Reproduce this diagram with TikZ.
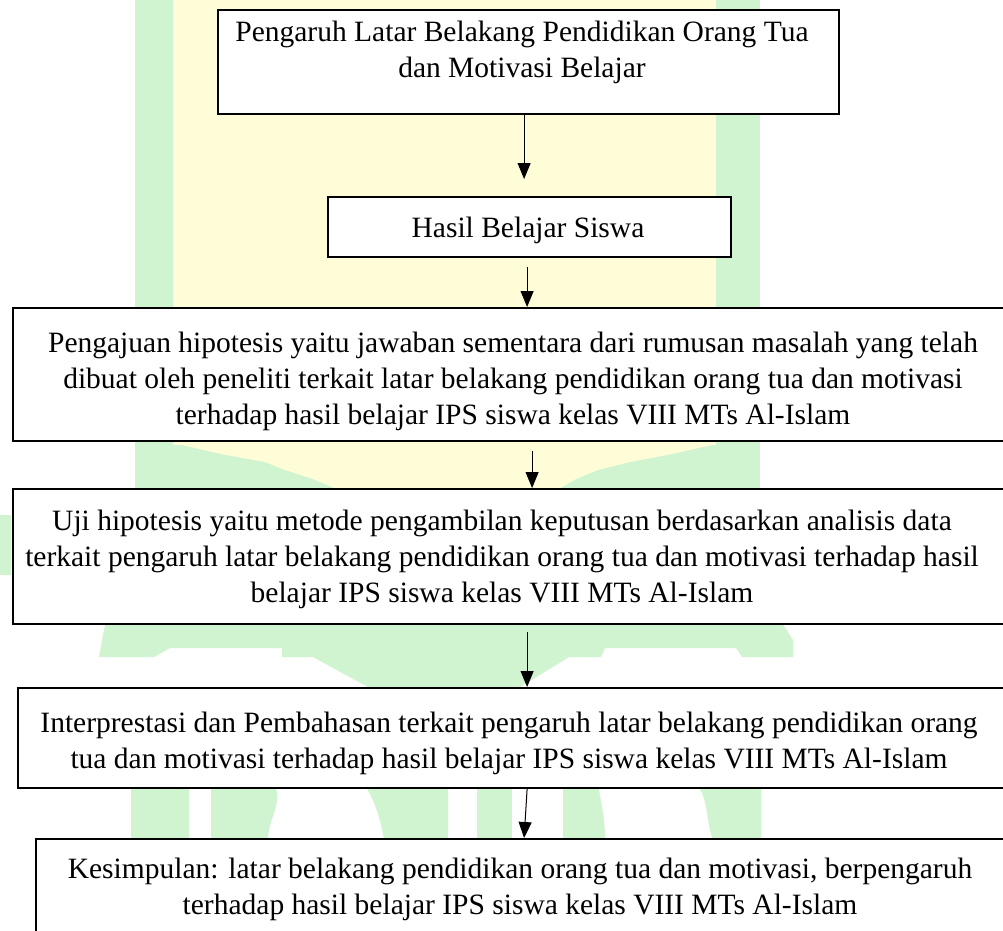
\documentclass[tikz,border=0pt]{standalone}
\usepackage{fontspec}
\setmainfont{Liberation Serif}
\usetikzlibrary{arrows.meta}
\definecolor{wmgreen}{RGB}{208,243,208}
\definecolor{wmyellow}{RGB}{255,253,216}
\tikzset{
  flowbox/.style={draw=black, line width=2.2pt, fill=white, rectangle, inner sep=0pt, anchor=north west},
  flowtext/.style={align=center, inner sep=0pt, font=\fontsize{29.5}{36}\selectfont},
  flowarrow/.style={line width=1pt, -{Triangle[width=13pt,length=16pt]}},
}
\begin{document}
\begin{tikzpicture}[x=1pt,y=-1pt]
\useasboundingbox (0,0) rectangle (1003,930);
\clip (0,0) rectangle (1003,930);
\fill[white] (0,0) rectangle (1003,930);
% faint watermark
\fill[wmgreen] (135,0) rectangle (760,490);
\fill[wmyellow] (173,0) rectangle (716,445);
\fill[wmyellow] (182,445) -- (712,445) -- (672,454) -- (630,462) -- (598,470) -- (576,479) -- (557,490) -- (339,490) -- (313,479) -- (285,470) -- (265,462) -- (221,454) -- cycle;
\fill[wmgreen] (0,515) rectangle (11,575);
\fill[wmgreen] (106,620) -- (780,620) -- (793,640) -- (793,657) -- (742,657) -- (736,648) -- (605,648) -- (601,657) -- (569,657) -- (512,692) -- (377,692) -- (313,657) -- (282,657) -- (282,648) -- (170,648) -- (154,657) -- (99,657) -- (102,640) -- cycle;
\fill[wmgreen] (131,785) rectangle (189,840);
\fill[wmgreen] (211,785) -- (275,785) to[out=-70,in=90] (268,840) -- (211,840) -- cycle;
\fill[wmgreen] (365,785) -- (448,785) -- (448,840) -- (384,840) to[out=100,in=-60] cycle;
\fill[wmgreen] (477,785) rectangle (512,840);
\fill[wmgreen] (563,785) -- (598,785) to[out=-80,in=90] (605,840) -- (563,840) -- cycle;
\fill[wmgreen] (698,785) -- (761,785) -- (761,840) -- (713,840) to[out=110,in=-60] cycle;
% boxes
\node[flowbox, minimum width=621pt, minimum height=104pt] (b1) at (217,9) {};
\node[flowbox, minimum width=403pt, minimum height=60pt] (b2) at (327,196) {};
\node[flowbox, minimum width=1002pt, minimum height=133pt] (b3) at (12,307) {};
\node[flowbox, minimum width=1008pt, minimum height=135pt] (b4) at (12,488) {};
\node[flowbox, minimum width=1003pt, minimum height=100pt] (b5) at (17,687) {};
\node[flowbox, minimum width=980pt, minimum height=130pt] (b6) at (35,838) {};
% texts
\node[flowtext] (t1) at (522,52.5) {Pengaruh Latar Belakang Pendidikan Orang Tua\\dan Motivasi Belajar};
\node[flowtext] (t2) at (528,230) {Hasil Belajar Siswa};
\node[flowtext] (t3) at (513,381) {Pengajuan hipotesis yaitu jawaban sementara dari rumusan masalah yang telah\\dibuat oleh peneliti terkait latar belakang pendidikan orang tua dan motivasi\\terhadap hasil belajar IPS siswa kelas VIII MTs Al-Islam};
\node[flowtext] (t4) at (502,559.5) {Uji hipotesis yaitu metode pengambilan keputusan berdasarkan analisis data\\terkait pengaruh latar belakang pendidikan orang tua dan motivasi terhadap hasil\\belajar IPS siswa kelas VIII MTs Al-Islam};
\node[flowtext] (t5) at (509,743) {Interprestasi dan Pembahasan terkait pengaruh latar belakang pendidikan orang\\tua dan motivasi terhadap hasil belajar IPS siswa kelas VIII MTs Al-Islam};
\node[flowtext] (t6) at (520,889) {Kesimpulan: latar belakang pendidikan orang tua dan motivasi, berpengaruh\\terhadap hasil belajar IPS siswa kelas VIII MTs Al-Islam};
% arrows
\draw[flowarrow] ([xshift=-4.5pt]b1.south) -- ([xshift=-5.5pt,yshift=17pt]b2.north);
\draw[flowarrow] ([xshift=-2.5pt,yshift=-9pt]b2.south) -- ([xshift=13pt]b3.north);
\draw[flowarrow] ([xshift=18pt,yshift=-9pt]b3.south) -- ([xshift=15pt]b4.north);
\draw[flowarrow] ([xshift=10pt,yshift=-7pt]b4.south) -- ([xshift=7.5pt]b5.north);
\draw[flowarrow] ([xshift=7.5pt]b5.south) -- ([xshift=-2pt]b6.north);
\end{tikzpicture}
\end{document}
